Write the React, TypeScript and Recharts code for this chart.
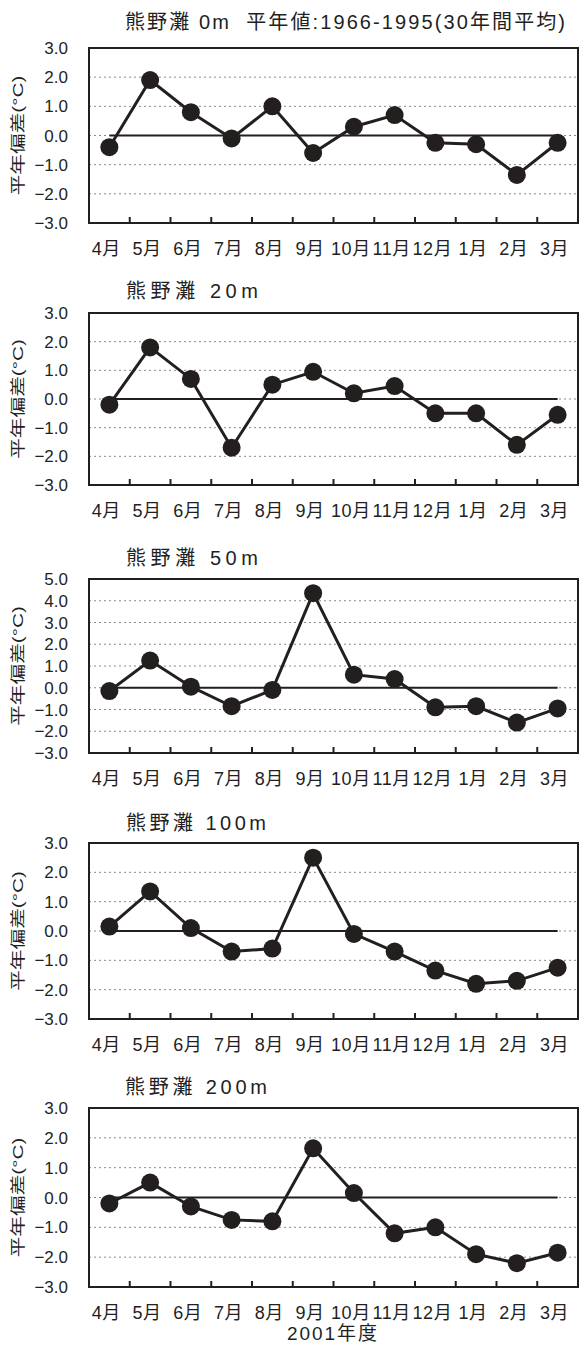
import React from 'react';
import { LineChart, Line, XAxis, YAxis, CartesianGrid, ReferenceArea, ReferenceLine } from 'recharts';

const months = ['4月', '5月', '6月', '7月', '8月', '9月', '10月', '11月', '12月', '1月', '2月', '3月'];
const depth0 = [-0.4, 1.9, 0.8, -0.1, 1.0, -0.6, 0.3, 0.7, -0.25, -0.3, -1.35, -0.25];
const depth20 = [-0.2, 1.8, 0.7, -1.7, 0.5, 0.95, 0.2, 0.45, -0.5, -0.5, -1.6, -0.55];
const depth50 = [-0.15, 1.25, 0.05, -0.85, -0.1, 4.35, 0.6, 0.4, -0.9, -0.85, -1.6, -0.95];
const depth100 = [0.15, 1.35, 0.1, -0.7, -0.6, 2.5, -0.1, -0.7, -1.35, -1.8, -1.7, -1.25];
const depth200 = [-0.2, 0.5, -0.3, -0.75, -0.8, 1.65, 0.15, -1.2, -1.0, -1.9, -2.2, -1.85];
const ticksStd = [-3, -2, -1, 0, 1, 2, 3];
const ticks50 = [-3, -2, -1, 0, 1, 2, 3, 4, 5];

const titles = [
  '熊野灘 0m  平年値:1966-1995(30年間平均)',
  '熊野灘 20m',
  '熊野灘 50m',
  '熊野灘 100m',
  '熊野灘 200m',
];
const yLabel = '平年偏差(°C)';
const xLabel = '2001年度';

const FONT = "'Liberation Sans', 'Noto Sans CJK JP', sans-serif";
const INK = '#231f1f';

// layout only
const CHART_W = 579;
const Y_AXIS_W = 89;
const RIGHT_PAD = 1;
const BAND = (CHART_W - Y_AXIS_W - RIGHT_PAD) / months.length;

const panels = [
  { values: depth0, ticks: ticksStd, top: 48, bottom: 223, titleY: 21.5, titleX: 125, titleW: 440 },
  { values: depth20, ticks: ticksStd, top: 313, bottom: 485, titleY: 291, titleX: 126, titleW: 132 },
  { values: depth50, ticks: ticks50, top: 579, bottom: 753, titleY: 558, titleX: 126, titleW: 132 },
  { values: depth100, ticks: ticksStd, top: 843, bottom: 1019, titleY: 823, titleX: 126, titleW: 140 },
  { values: depth200, ticks: ticksStd, top: 1108, bottom: 1287, titleY: 1087, titleX: 125, titleW: 142 },
];

const fmt = (v: number) => (v < 0 ? '−' : '') + Math.abs(v).toFixed(1);

const MonthTick = (props: any) => {
  const { x, y, payload } = props;
  const i = months.indexOf(payload.value);
  const bx = x + BAND / 2;
  return (
    <g>
      {i >= 0 && i < months.length - 1 && (
        <path d={`M${bx},${y}L${bx},${y - 6}`} stroke={INK} strokeWidth={2} fill="none" />
      )}
      <text
        x={x - 3}
        y={y + 26}
        textAnchor="middle"
        dominantBaseline="central"
        fontSize={18}
        letterSpacing={0.5}
        fontFamily={FONT}
        fill={INK}
        stroke="none"
      >
        {payload.value}
      </text>
    </g>
  );
};

const Panel = ({ p }: { p: (typeof panels)[number] }) => {
  const rows = months.map((m, i) => ({ m, v: p.values[i] }));
  const lo = p.ticks[0];
  const hi = p.ticks[p.ticks.length - 1];
  const plotH = p.bottom - p.top;
  const H = 40 + plotH + 40;
  return (
    <div style={{ position: 'absolute', left: 0, top: p.top - 40 }}>
      <LineChart width={CHART_W} height={H} data={rows} margin={{ top: 40, right: RIGHT_PAD, bottom: 0, left: 0 }}>
        <CartesianGrid horizontal vertical={false} stroke="#8a8a8a" strokeDasharray="2 3" strokeWidth={1} />
        <ReferenceArea
          x1={months[0]}
          x2={months[months.length - 1]}
          y1={lo}
          y2={hi}
          fill="none"
          fillOpacity={0}
          stroke={INK}
          strokeWidth={2}
          ifOverflow="visible"
        />
        <ReferenceLine
          segment={[
            { x: months[0], y: 0 },
            { x: months[months.length - 1], y: 0 },
          ]}
          stroke={INK}
          strokeWidth={2}
        />
        <XAxis
          dataKey="m"
          type="category"
          scale="band"
          interval={0}
          height={40}
          axisLine={false}
          tickLine={false}
          tickSize={0}
          tickMargin={0}
          tick={<MonthTick />}
        />
        <YAxis
          type="number"
          domain={[lo, hi]}
          ticks={p.ticks}
          interval={0}
          width={Y_AXIS_W}
          axisLine={false}
          tickLine={false}
          tickSize={0}
          tickMargin={21}
          tickFormatter={fmt}
          tick={{ fontSize: 17, fill: INK, fontFamily: FONT }}
        />
        <Line
          dataKey="v"
          stroke={INK}
          strokeWidth={3}
          dot={{ r: 9, fill: INK, stroke: INK, strokeWidth: 0 }}
          activeDot={false}
          isAnimationActive={false}
        />
      </LineChart>
    </div>
  );
};

export default function App() {
  return (
    <div
      style={{
        position: 'absolute',
        left: 0,
        top: 0,
        width: 579,
        height: 1355,
        background: '#fff',
        overflow: 'hidden',
      }}
    >
      {panels.map((p, i) => (
        <Panel key={i} p={p} />
      ))}
      <svg
        width={579}
        height={1355}
        style={{ position: 'absolute', left: 0, top: 0, pointerEvents: 'none' }}
      >
        {panels.map((p, i) => (
          <g key={i}>
            <text
              x={p.titleX}
              y={p.titleY}
              dominantBaseline="central"
              fontSize={20}
              fontFamily={FONT}
              fill={INK}
              textLength={p.titleW}
              lengthAdjust="spacing"
              style={{ whiteSpace: 'pre' }}
            >
              {titles[i]}
            </text>
            <text
              transform={`translate(18.5, ${(p.top + p.bottom) / 2}) rotate(-90) scale(1.38, 1)`}
              textAnchor="middle"
              dominantBaseline="central"
              fontSize={15}
              fontFamily={FONT}
              fill={INK}
            >
              {yLabel}
            </text>
          </g>
        ))}
        <text
          x={332}
          y={1333}
          textAnchor="middle"
          dominantBaseline="central"
          fontSize={19}
          fontFamily={FONT}
          fill={INK}
          textLength={90}
          lengthAdjust="spacing"
        >
          {xLabel}
        </text>
      </svg>
    </div>
  );
}
